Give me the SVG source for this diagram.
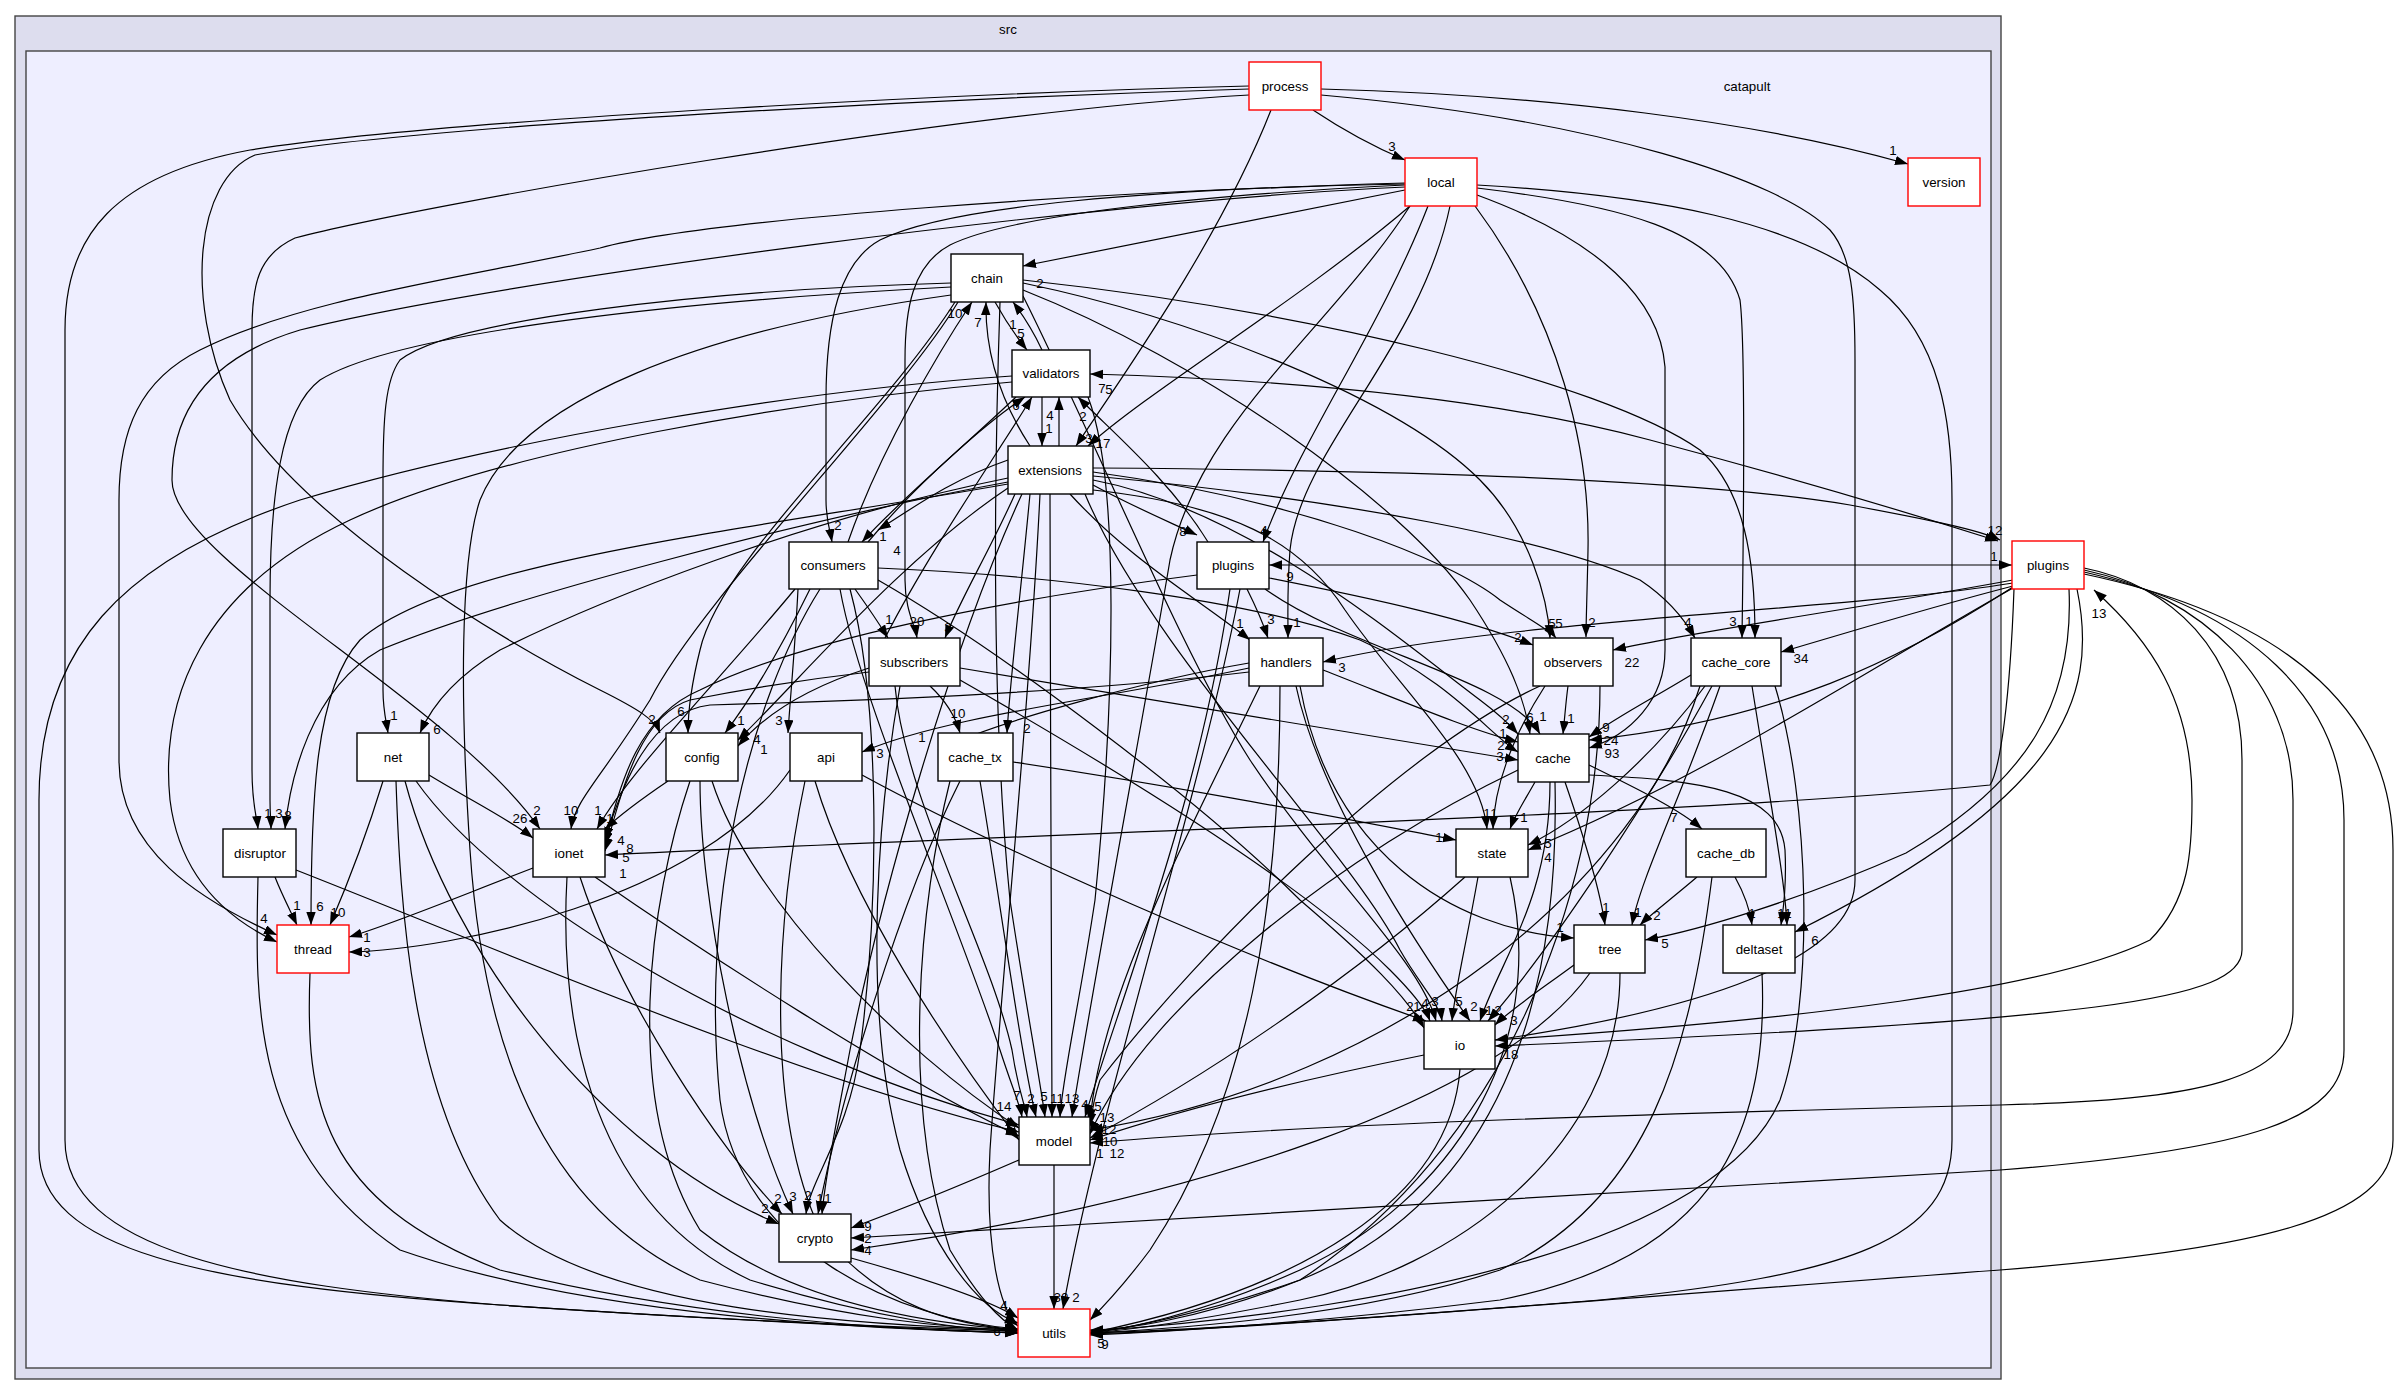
<svg xmlns="http://www.w3.org/2000/svg" width="2397" height="1395" viewBox="0 0 2397 1395">
<style>
.e path{fill:none;stroke:#000;stroke-width:1.2;marker-end:url(#ah)}
.e path.both{marker-start:url(#as)}
.n rect{fill:#fff;stroke:#000;stroke-width:1.4}
.n.r rect{stroke:#f00}
text{font-family:"Liberation Sans",Arial,Helvetica,sans-serif;font-size:13.33px;fill:#000}
.n text,.lb text,.cl text{text-anchor:middle}
</style>
<defs>
<marker id="ah" markerUnits="userSpaceOnUse" markerWidth="14" markerHeight="10" refX="13" refY="4.7" orient="auto" viewBox="0 0 14 10"><path d="M0,0 L13,4.7 L0,9.4 z" fill="#000"/></marker>
<marker id="as" markerUnits="userSpaceOnUse" markerWidth="14" markerHeight="10" refX="13" refY="4.7" orient="auto-start-reverse" viewBox="0 0 14 10"><path d="M0,0 L13,4.7 L0,9.4 z" fill="#000"/></marker>
</defs>
<rect width="2397" height="1395" fill="#fff"/>
<g id="clusters" class="cl">
<rect x="15" y="16" width="1986" height="1363" fill="#ddddee" stroke="#444" stroke-width="1.4"/>
<text x="1008" y="34">src</text>
<rect x="26" y="51" width="1965" height="1317" fill="#eeeeff" stroke="#444" stroke-width="1.4"/>
<text x="1747" y="91">catapult</text>
</g>
<g id="edges" class="e">
<path d="M1313,110 C1340,128 1372,146 1405,160"/>
<path d="M1321,89 C1550,95 1760,122 1908,164"/>
<path d="M1271,110 C1220,240 1120,380 1076,446"/>
<path d="M1249,86 C1000,92 450,118 250,150 C115,175 65,235 65,330 L65,1140 C65,1250 250,1285 500,1305 C750,1322 950,1329 1018,1331"/>
<path d="M1249,89 C950,98 420,125 255,155 C195,180 185,300 230,400 C300,520 500,640 600,690 C640,710 655,720 660,733"/>
<path d="M1249,95 C950,112 420,205 295,238 C258,255 252,285 252,330 L252,770 C252,805 257,818 258,829"/>
<path d="M1321,95 C1600,120 1780,180 1830,230 C1852,255 1855,300 1855,360 L1855,880 C1855,960 1700,1010 1495,1040"/>
<path d="M1405,190 C1250,220 1100,250 1023,266"/>
<path d="M1410,206 C1300,300 1150,390 1088,446"/>
<path d="M1405,183 C1150,190 950,205 880,240 C840,262 826,320 826,400 L826,500 C826,520 830,530 832,542"/>
<path d="M1405,185 C1200,195 1010,215 950,245 C912,265 905,310 905,360 L905,580 C905,610 915,625 917,638"/>
<path d="M1428,206 C1380,330 1300,440 1263,542"/>
<path d="M1450,206 C1420,350 1300,450 1290,550 C1287,590 1288,610 1288,638"/>
<path d="M1475,206 C1560,320 1590,450 1588,550 C1587,600 1586,620 1586,637"/>
<path d="M1477,188 C1620,205 1720,230 1740,300 C1745,340 1744,500 1742,638"/>
<path d="M1477,195 C1600,240 1660,300 1665,367 L1665,650 C1665,700 1630,735 1589,748"/>
<path d="M1477,185 C1650,195 1800,220 1880,290 C1940,340 1952,420 1952,500 L1952,1140 C1952,1240 1850,1275 1600,1300 C1350,1320 1200,1330 1090,1333"/>
<path d="M1405,184 C1100,190 700,220 600,248 C450,280 300,300 200,350 C140,380 119,430 119,500 L119,760 C119,850 200,900 277,935"/>
<path d="M1405,187 C1100,200 500,280 300,330 C200,360 172,420 172,480 C172,560 450,700 540,829"/>
<path d="M1410,206 C1330,330 1200,420 1170,560 C1150,680 1090,1000 1072,1117"/>
<path d="M995,302 C1005,320 1015,335 1027,350"/>
<path d="M1042,350 C1035,335 1025,318 1013,302"/>
<path d="M951,283 C700,290 450,320 400,360 C385,380 383,420 383,480 L383,690 C383,710 386,720 388,733"/>
<path d="M951,287 C700,300 400,330 320,380 C280,410 270,500 270,600 L270,800 C270,815 271,822 271,829"/>
<path d="M958,302 C900,400 700,600 650,700 C600,780 575,800 571,829"/>
<path d="M955,302 C880,420 720,560 700,650 C690,690 688,715 688,733"/>
<path d="M951,295 C700,330 520,400 480,500 C460,560 460,700 470,850 C480,1000 520,1200 700,1280 C850,1320 950,1328 1018,1330"/>
<path d="M1000,302 C995,450 990,700 1010,900 C1025,1000 1040,1080 1045,1117"/>
<path d="M1023,283 C1200,320 1400,400 1480,480 C1530,530 1548,600 1550,638"/>
<path d="M1023,280 C1300,310 1600,380 1700,450 C1745,490 1755,560 1755,638"/>
<path d="M1023,290 C1200,360 1400,500 1470,600 C1510,660 1525,700 1530,734"/>
<path d="M1023,296 C1100,450 1180,650 1250,760 C1330,880 1420,960 1436,1021"/>
<path d="M1042,397 C1042,415 1042,430 1042,446"/>
<path d="M1059,446 C1059,430 1059,415 1059,397"/>
<path d="M1016,397 C960,450 900,500 862,542"/>
<path class="both" d="M1090,374 C1300,380 1500,400 1650,440 C1800,480 1900,510 1998,541"/>
<path d="M1012,376 C800,390 500,440 300,500 C120,560 39,650 39,800 L39,1150 C39,1250 200,1285 500,1305 C750,1322 950,1330 1018,1333"/>
<path d="M1012,382 C800,400 500,450 350,520 C200,590 160,700 170,800 C180,880 230,920 277,942"/>
<path d="M1088,397 C1120,480 1115,700 1095,900 C1080,1000 1062,1080 1060,1117"/>
<path d="M1030,446 C1000,400 985,350 986,302"/>
<path d="M1008,460 C950,480 910,510 878,530"/>
<path d="M1015,494 C990,550 960,600 945,638"/>
<path d="M1093,485 C1130,505 1165,520 1197,535"/>
<path d="M1070,494 C1130,560 1200,600 1250,640"/>
<path d="M1093,472 C1300,500 1450,560 1500,600 C1530,620 1550,630 1556,638"/>
<path d="M1093,476 C1350,500 1550,540 1640,580 C1670,600 1685,620 1695,638"/>
<path d="M1093,480 C1250,510 1400,640 1480,700 C1500,715 1510,725 1518,734"/>
<path d="M1093,490 C1230,505 1300,540 1345,610 C1400,690 1480,760 1487,829"/>
<path d="M1085,494 C1150,650 1350,850 1400,950 C1420,985 1440,1005 1442,1021"/>
<path d="M1050,494 C1050,700 1052,950 1052,1117"/>
<path d="M1040,494 C1030,700 1000,1000 990,1150 C985,1250 1000,1310 1018,1326"/>
<path d="M1022,494 C950,650 880,900 850,1050 C835,1130 825,1180 822,1214"/>
<path d="M1030,494 C1020,600 1010,680 1007,733"/>
<path d="M1008,488 C900,560 800,680 738,740"/>
<path d="M1008,478 C800,520 600,600 500,650 C450,680 430,710 420,733"/>
<path d="M1008,482 C800,520 500,600 380,650 C310,690 290,780 285,829"/>
<path d="M1008,484 C750,530 450,560 360,640 C315,690 311,800 311,925"/>
<path d="M1093,468 C1400,470 1700,480 1850,505 C1930,520 1980,530 2000,540"/>
<path d="M848,542 C880,450 940,350 972,302"/>
<path d="M868,542 C920,480 990,420 1025,397"/>
<path d="M855,589 C870,610 880,625 888,638"/>
<path d="M810,589 C780,650 750,700 725,733"/>
<path d="M798,589 C795,650 790,700 788,733"/>
<path d="M795,589 C720,680 630,770 597,829"/>
<path d="M840,589 C860,700 950,900 1000,1050 C1013,1090 1020,1105 1022,1117"/>
<path d="M820,589 C750,700 700,900 720,1100 C740,1250 900,1320 1018,1329"/>
<path d="M878,568 C1050,575 1250,600 1360,640 C1450,680 1490,735 1518,752"/>
<path d="M878,580 C1000,650 1200,800 1300,900 C1370,960 1405,995 1424,1028"/>
<path d="M850,589 C880,700 880,900 860,1050 C850,1130 810,1180 806,1214"/>
<path d="M1208,542 C1170,480 1110,430 1078,397"/>
<path class="both" d="M1269,565 L2012,565"/>
<path d="M1247,589 C1255,605 1262,620 1268,638"/>
<path d="M1269,578 C1380,600 1470,620 1533,645"/>
<path d="M1265,589 C1350,650 1510,680 1540,734"/>
<path d="M1197,575 C1000,600 800,640 700,690 C640,715 620,780 605,845"/>
<path d="M1230,589 C1200,800 1120,1000 1085,1117"/>
<path d="M1240,589 C1200,800 1100,1100 1063,1309"/>
<path d="M2013,583 C1850,610 1500,620 1323,662"/>
<path d="M2013,580 C1850,610 1700,630 1613,650"/>
<path d="M2013,586 C1920,610 1840,635 1781,652"/>
<path d="M2013,587 C1900,660 1780,720 1589,740"/>
<path d="M2013,588 C1850,680 1700,780 1528,850"/>
<path d="M2014,589 C2010,700 2000,770 1990,785 C1700,815 1000,835 605,855"/>
<path d="M2069,589 C2074,700 2030,780 1906,853 C1800,900 1700,930 1645,940"/>
<path d="M2077,589 C2100,700 2060,800 1795,932"/>
<path d="M2084,568 C2170,585 2242,650 2242,760 L2242,950 C2242,1000 2100,1020 1495,1046"/>
<path d="M2084,570 C2200,595 2293,680 2293,800 L2293,1010 C2293,1080 2200,1100 2000,1105 C1600,1115 1300,1125 1090,1143"/>
<path d="M2084,572 C2250,610 2344,700 2344,820 L2344,1050 C2344,1120 2250,1150 2000,1170 C1500,1200 1100,1225 851,1238"/>
<path d="M2084,574 C2300,620 2393,720 2393,850 L2393,1140 C2393,1220 2250,1250 2000,1270 C1600,1300 1300,1325 1090,1335"/>
<path d="M1495,1040 C1800,1020 2050,990 2150,940 C2190,900 2192,850 2192,800 C2192,700 2150,640 2094,590"/>
<path d="M885,638 C930,550 1000,450 1032,397"/>
<path d="M869,668 C800,690 760,720 738,746"/>
<path d="M930,686 C945,700 955,715 960,733"/>
<path d="M869,672 C800,680 740,690 690,700 C640,715 622,790 605,851"/>
<path d="M960,668 C1150,700 1400,740 1518,760"/>
<path d="M895,686 C905,800 990,950 1012,1050 C1018,1090 1025,1105 1027,1117"/>
<path d="M960,680 C1100,760 1300,880 1390,970 C1415,995 1426,1010 1430,1021"/>
<path d="M900,686 C880,800 860,1000 900,1150 C930,1250 980,1310 1018,1323"/>
<path d="M1249,663 C1150,680 1000,720 938,750"/>
<path d="M1249,668 C1100,700 950,715 862,752"/>
<path d="M1300,686 C1330,850 1450,930 1574,938"/>
<path d="M1296,686 C1320,800 1420,950 1470,1021"/>
<path d="M1260,686 C1180,850 1100,1000 1090,1122"/>
<path d="M1280,686 C1280,900 1250,1100 1150,1250 C1120,1290 1100,1310 1090,1320"/>
<path d="M1249,672 C1100,690 900,700 710,705 C650,712 622,785 605,840"/>
<path d="M1323,670 C1400,700 1470,730 1518,742"/>
<path d="M1568,686 C1566,700 1565,715 1563,734"/>
<path d="M1545,686 C1510,740 1494,790 1493,829"/>
<path d="M1540,686 C1400,750 1200,950 1100,1080 C1095,1095 1092,1110 1090,1126"/>
<path d="M1600,686 C1600,900 1500,1150 1300,1280 C1200,1320 1120,1330 1090,1330"/>
<path d="M1691,675 C1650,700 1620,715 1589,737"/>
<path d="M1705,686 C1650,760 1580,820 1528,845"/>
<path d="M1720,686 C1680,800 1640,880 1632,925"/>
<path d="M1752,686 C1770,800 1785,880 1787,925"/>
<path d="M1712,686 C1650,800 1550,950 1488,1021"/>
<path d="M1700,686 C1640,880 1400,1080 1090,1130"/>
<path d="M1775,686 C1810,800 1815,1000 1780,1100 C1720,1240 1400,1310 1090,1331"/>
<path d="M429,775 C470,800 510,820 533,838"/>
<path d="M383,781 C365,840 345,890 330,925"/>
<path d="M396,781 C400,900 410,1100 500,1220 C600,1310 850,1325 1018,1330"/>
<path d="M416,781 C500,900 750,1050 1019,1125"/>
<path d="M405,781 C450,950 600,1150 779,1224"/>
<path d="M668,781 C640,800 620,815 605,829"/>
<path d="M690,781 C650,900 620,1100 700,1230 C800,1310 950,1325 1018,1330"/>
<path d="M712,781 C750,900 900,1050 1019,1128"/>
<path d="M700,781 C700,900 740,1100 793,1214"/>
<path d="M790,770 C700,900 450,950 349,952"/>
<path d="M815,781 C850,900 950,1050 1019,1140"/>
<path d="M862,775 C1000,850 1250,960 1426,1021"/>
<path d="M805,781 C780,900 760,1100 820,1230 C880,1310 960,1325 1018,1330"/>
<path d="M1013,762 C1200,790 1350,820 1456,840"/>
<path d="M980,781 C1000,900 1020,1050 1036,1117"/>
<path d="M950,781 C920,900 900,1100 950,1250 C980,1300 1000,1320 1018,1330"/>
<path d="M960,781 C900,900 840,1100 818,1214"/>
<path d="M1535,782 C1525,800 1515,815 1510,829"/>
<path d="M1589,765 C1640,790 1680,810 1702,829"/>
<path d="M1565,782 C1585,840 1600,890 1605,925"/>
<path d="M1589,775 C1700,780 1780,790 1785,850 C1787,890 1783,910 1781,925"/>
<path d="M1550,782 C1550,900 1500,960 1480,1021"/>
<path d="M1518,770 C1350,850 1150,1000 1090,1134"/>
<path d="M1555,782 C1560,1000 1500,1200 1300,1280 C1200,1315 1120,1330 1090,1332"/>
<path d="M275,877 C282,895 290,910 297,925"/>
<path d="M296,870 C500,950 800,1080 1019,1132"/>
<path d="M258,877 C255,1000 250,1150 400,1250 C600,1320 900,1330 1018,1333"/>
<path d="M533,868 C450,900 390,925 349,937"/>
<path d="M595,877 C700,950 900,1080 1019,1136"/>
<path d="M567,877 C560,1000 580,1200 750,1280 C880,1320 970,1330 1018,1332"/>
<path d="M580,877 C620,1000 720,1150 782,1214"/>
<path d="M1478,877 C1465,950 1455,990 1452,1021"/>
<path d="M1465,877 C1350,980 1200,1080 1090,1138"/>
<path d="M1510,877 C1550,1050 1450,1200 1300,1270 C1200,1315 1120,1330 1090,1333"/>
<path d="M1697,877 C1670,900 1650,915 1640,925"/>
<path d="M1735,877 C1745,895 1750,910 1752,925"/>
<path d="M1712,877 C1690,1050 1650,1200 1500,1270 C1350,1320 1150,1330 1090,1333"/>
<path d="M310,973 C305,1100 320,1200 500,1270 C700,1320 900,1330 1018,1333"/>
<path d="M1574,965 C1540,990 1510,1010 1495,1025"/>
<path d="M1590,973 C1500,1100 1200,1200 851,1250"/>
<path d="M1620,973 C1620,1150 1450,1270 1300,1300 C1200,1320 1130,1330 1090,1333"/>
<path d="M1762,973 C1770,1150 1700,1260 1500,1300 C1300,1325 1150,1332 1090,1334"/>
<path d="M1424,1055 C1300,1080 1180,1110 1090,1140"/>
<path d="M1460,1069 C1450,1200 1300,1290 1090,1333"/>
<path d="M1019,1160 C950,1190 900,1210 851,1228"/>
<path d="M1054,1165 C1054,1220 1054,1260 1054,1309"/>
<path d="M851,1258 C930,1280 990,1300 1018,1318"/>
</g>
<g id="node-process" class="n r"><rect x="1249" y="62" width="72" height="48"/><text x="1285" y="91">process</text></g>
<g id="node-local" class="n r"><rect x="1405" y="158" width="72" height="48"/><text x="1441" y="187">local</text></g>
<g id="node-version" class="n r"><rect x="1908" y="158" width="72" height="48"/><text x="1944" y="187">version</text></g>
<g id="node-chain" class="n"><rect x="951" y="254" width="72" height="48"/><text x="987" y="283">chain</text></g>
<g id="node-validators" class="n"><rect x="1012" y="350" width="78" height="47"/><text x="1051" y="378">validators</text></g>
<g id="node-extensions" class="n"><rect x="1008" y="446" width="85" height="48"/><text x="1050" y="475">extensions</text></g>
<g id="node-consumers" class="n"><rect x="789" y="542" width="89" height="47"/><text x="833" y="570">consumers</text></g>
<g id="node-plugins" class="n"><rect x="1197" y="542" width="72" height="47"/><text x="1233" y="570">plugins</text></g>
<g id="node-plugins-top" class="n r"><rect x="2012" y="541" width="72" height="48"/><text x="2048" y="570">plugins</text></g>
<g id="node-subscribers" class="n"><rect x="869" y="638" width="91" height="48"/><text x="914" y="667">subscribers</text></g>
<g id="node-handlers" class="n"><rect x="1249" y="638" width="74" height="48"/><text x="1286" y="667">handlers</text></g>
<g id="node-observers" class="n"><rect x="1533" y="638" width="80" height="48"/><text x="1573" y="667">observers</text></g>
<g id="node-cache_core" class="n"><rect x="1691" y="638" width="90" height="48"/><text x="1736" y="667">cache_core</text></g>
<g id="node-net" class="n"><rect x="357" y="733" width="72" height="48"/><text x="393" y="762">net</text></g>
<g id="node-config" class="n"><rect x="666" y="733" width="72" height="48"/><text x="702" y="762">config</text></g>
<g id="node-api" class="n"><rect x="790" y="733" width="72" height="48"/><text x="826" y="762">api</text></g>
<g id="node-cache_tx" class="n"><rect x="938" y="733" width="75" height="48"/><text x="975" y="762">cache_tx</text></g>
<g id="node-cache" class="n"><rect x="1518" y="734" width="71" height="48"/><text x="1553" y="763">cache</text></g>
<g id="node-disruptor" class="n"><rect x="223" y="829" width="73" height="48"/><text x="260" y="858">disruptor</text></g>
<g id="node-ionet" class="n"><rect x="533" y="829" width="72" height="48"/><text x="569" y="858">ionet</text></g>
<g id="node-state" class="n"><rect x="1456" y="829" width="72" height="48"/><text x="1492" y="858">state</text></g>
<g id="node-cache_db" class="n"><rect x="1686" y="829" width="80" height="48"/><text x="1726" y="858">cache_db</text></g>
<g id="node-thread" class="n r"><rect x="277" y="925" width="72" height="48"/><text x="313" y="954">thread</text></g>
<g id="node-tree" class="n"><rect x="1574" y="925" width="71" height="48"/><text x="1610" y="954">tree</text></g>
<g id="node-deltaset" class="n"><rect x="1723" y="925" width="72" height="48"/><text x="1759" y="954">deltaset</text></g>
<g id="node-io" class="n"><rect x="1424" y="1021" width="71" height="48"/><text x="1460" y="1050">io</text></g>
<g id="node-model" class="n"><rect x="1019" y="1117" width="71" height="48"/><text x="1054" y="1146">model</text></g>
<g id="node-crypto" class="n"><rect x="779" y="1214" width="72" height="48"/><text x="815" y="1243">crypto</text></g>
<g id="node-utils" class="n r"><rect x="1018" y="1309" width="72" height="48"/><text x="1054" y="1338">utils</text></g>
<g id="edge-labels" class="lb">
<text x="1392" y="151">3</text><text x="1893" y="155">1</text><text x="1089" y="443">3</text><text x="652" y="724">2</text><text x="268" y="818">1</text>
<text x="1040" y="288">2</text><text x="1103" y="448">17</text><text x="838" y="530">2</text><text x="917" y="626">20</text><text x="1264" y="535">4</text>
<text x="1297" y="627">1</text><text x="1592" y="627">2</text><text x="1733" y="626">3</text><text x="1612" y="758">93</text><text x="264" y="923">4</text>
<text x="537" y="815">2</text><text x="1085" y="1109">4</text><text x="1021" y="338">5</text><text x="1013" y="329">1</text><text x="394" y="720">1</text>
<text x="279" y="818">3</text><text x="571" y="815">10</text><text x="681" y="716">6</text><text x="1552" y="628">5</text><text x="1749" y="626">1</text>
<text x="1530" y="722">6</text><text x="1044" y="1101">5</text><text x="1435" y="1006">3</text><text x="1049" y="433">1</text><text x="1050" y="420">4</text>
<text x="883" y="541">1</text><text x="1102" y="393">7</text><text x="1109" y="394">5</text><text x="1995" y="535">12</text><text x="1072" y="1103">13</text>
<text x="978" y="327">7</text><text x="897" y="555">4</text><text x="948" y="632">3</text><text x="1183" y="536">8</text><text x="1240" y="628">1</text>
<text x="1559" y="628">5</text><text x="1688" y="627">4</text><text x="1506" y="724">2</text><text x="1487" y="818">1</text><text x="1057" y="1103">11</text>
<text x="828" y="1203">1</text><text x="1027" y="733">2</text><text x="757" y="744">4</text><text x="437" y="734">6</text><text x="288" y="820">8</text>
<text x="320" y="911">6</text><text x="955" y="318">10</text><text x="1016" y="410">6</text><text x="889" y="624">1</text><text x="741" y="725">1</text>
<text x="779" y="725">3</text><text x="598" y="815">1</text><text x="1004" y="1111">14</text><text x="1501" y="750">2</text><text x="1410" y="1011">2</text>
<text x="808" y="1200">2</text><text x="1083" y="421">2</text><text x="1290" y="581">9</text><text x="1994" y="561">1</text><text x="1271" y="624">3</text>
<text x="1518" y="642">2</text><text x="1543" y="721">1</text><text x="630" y="853">8</text><text x="1098" y="1111">5</text><text x="1076" y="1302">2</text>
<text x="1342" y="672">3</text><text x="1632" y="667">22</text><text x="1801" y="663">34</text><text x="1611" y="745">24</text><text x="1548" y="862">4</text>
<text x="623" y="878">1</text><text x="1665" y="948">5</text><text x="1815" y="945">6</text><text x="1511" y="1059">18</text><text x="1117" y="1158">12</text>
<text x="868" y="1243">2</text><text x="2099" y="618">13</text><text x="764" y="754">1</text><text x="958" y="718">10</text><text x="626" y="862">5</text>
<text x="1500" y="761">3</text><text x="1017" y="1100">7</text><text x="1425" y="1008">4</text><text x="922" y="742">1</text><text x="880" y="758">3</text>
<text x="1560" y="932">1</text><text x="1474" y="1011">2</text><text x="621" y="845">4</text><text x="1503" y="738">1</text><text x="1571" y="723">1</text>
<text x="1494" y="818">1</text><text x="1107" y="1122">13</text><text x="1606" y="732">9</text><text x="1548" y="848">5</text><text x="1638" y="917">1</text>
<text x="1788" y="918">1</text><text x="1498" y="1015">2</text><text x="1110" y="1146">10</text><text x="520" y="823">26</text><text x="338" y="917">10</text>
<text x="765" y="1213">2</text><text x="610" y="823">1</text><text x="793" y="1201">3</text><text x="367" y="957">3</text><text x="1417" y="1011">1</text>
<text x="1439" y="842">1</text><text x="1031" y="1103">2</text><text x="820" y="1203">1</text><text x="1524" y="822">1</text><text x="1674" y="822">7</text>
<text x="1606" y="912">1</text><text x="1781" y="918">1</text><text x="1489" y="1015">1</text><text x="1100" y="1158">1</text><text x="297" y="910">1</text>
<text x="367" y="942">1</text><text x="778" y="1203">2</text><text x="1459" y="1006">5</text><text x="1657" y="920">2</text><text x="1752" y="918">1</text>
<text x="1514" y="1025">3</text><text x="868" y="1255">4</text><text x="1109" y="1134">12</text><text x="868" y="1231">9</text><text x="1061" y="1302">30</text>
<text x="1004" y="1310">4</text><text x="997" y="1336">6</text><text x="1101" y="1348">5</text><text x="1105" y="1349">9</text>
</g>
</svg>
